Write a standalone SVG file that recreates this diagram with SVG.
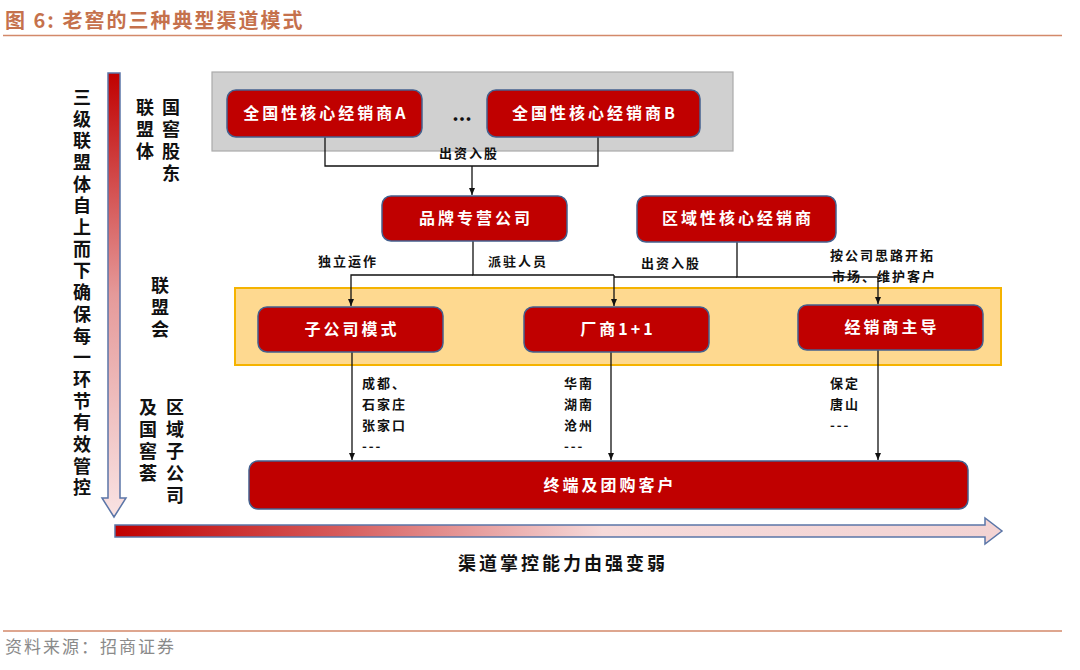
<svg xmlns="http://www.w3.org/2000/svg" width="1080" height="670" viewBox="0 0 1080 670">
<defs>
<style>
.t{font-family:"Noto Sans CJK SC","Liberation Sans",sans-serif;font-weight:bold;}
.node{fill:#c00000;stroke:#44608e;stroke-width:1.5;}
.nt{fill:#ffffff;font-size:16px;letter-spacing:3px;text-anchor:middle;}
.lbl{fill:#111;font-size:13px;letter-spacing:2px;}
.side{fill:#111;font-size:18px;writing-mode:vertical-rl;letter-spacing:4px;}
.ln{fill:none;stroke:#111;stroke-width:1.3;}
</style>
<marker id="ah" markerWidth="8" markerHeight="8" refX="7" refY="4" orient="auto" markerUnits="userSpaceOnUse">
<path d="M0,1 L7,4 L0,7 Z" fill="#111"/>
</marker>
<linearGradient id="gv" x1="0" y1="0" x2="0" y2="1">
<stop offset="0" stop-color="#c00000"/>
<stop offset="0.5" stop-color="#e59a9a"/>
<stop offset="1" stop-color="#f9e3e3"/>
</linearGradient>
<linearGradient id="gh" x1="0" y1="0" x2="1" y2="0">
<stop offset="0" stop-color="#c00000"/>
<stop offset="0.25" stop-color="#d65a5a"/>
<stop offset="0.55" stop-color="#f6dada"/>
<stop offset="1" stop-color="#f3d3d3"/>
</linearGradient>
</defs>
<rect width="1080" height="670" fill="#ffffff"/>

<g id="title">
<text x="5" y="28" class="t" style="font-size:20px;letter-spacing:2px;fill:#c5714c;">图 6:  老窖的三种典型渠道模式</text>
<line x1="3" y1="35.5" x2="1062" y2="35.5" stroke="#d3896a" stroke-width="1.5"/>
</g>

<g id="left-arrow">
<polygon points="108,73 120,73 120,498 126,498 114,517 102,498 108,498" fill="url(#gv)" stroke="#5b76a8" stroke-width="1.5"/>
<text class="t side" x="82" y="88" style="letter-spacing:3.7px;">三级联盟体自上而下确保每一环节有效管控</text>
</g>

<g id="bottom-arrow">
<polygon points="115,525 985,525 985,518 1002,531 985,544 985,537 115,537" fill="url(#gh)" stroke="#5b76a8" stroke-width="1.5"/>
<text class="t" x="563" y="570" style="font-size:18px;letter-spacing:3px;text-anchor:middle;fill:#111;">渠道掌控能力由强变弱</text>
</g>

<g id="tier-labels">
<text class="t side" x="145" y="98">联盟体</text>
<text class="t side" x="171" y="98">国窖股东</text>
<text class="t side" x="160" y="276">联盟会</text>
<text class="t side" x="148" y="398">及国窖荟</text>
<text class="t side" x="175" y="398">区域子公司</text>
</g>

<g id="shareholder-group">
<rect x="212" y="72" width="521" height="79" fill="#d0d0d0" stroke="#ababab" stroke-width="1.2"/>
</g>
<g id="alliance-group">
<rect x="235" y="288" width="766" height="77" fill="#fed990" stroke="#f5b300" stroke-width="2"/>
</g>

<g id="connectors">
<path class="ln" d="M325,137 V166 H598 V137"/>
<path class="ln" d="M472,166 V195" marker-end="url(#ah)"/>
<path class="ln" d="M473,241 V275 H614"/>
<path class="ln" d="M473,275 H351 V306" marker-end="url(#ah)"/>
<path class="ln" d="M614,275 V306" marker-end="url(#ah)"/>
<path class="ln" d="M737,242 V277 H878 V304" marker-end="url(#ah)"/>
<path class="ln" d="M737,277 H614"/>
<path class="ln" d="M352,352 V460" marker-end="url(#ah)"/>
<path class="ln" d="M611,352 V460" marker-end="url(#ah)"/>
<path class="ln" d="M878,350 V460" marker-end="url(#ah)"/>
<text class="t lbl" x="439" y="158">出资入股</text>
<text class="t lbl" x="318" y="266">独立运作</text>
<text class="t lbl" x="488" y="266">派驻人员</text>
<text class="t lbl" x="641" y="268">出资入股</text>
<text class="t lbl" x="830" y="260">按公司思路开拓</text>
<text class="t lbl" x="832" y="281">市场、维护客户</text>
<text class="t lbl"><tspan x="362" y="388">成都、</tspan><tspan x="362" dy="21">石家庄</tspan><tspan x="362" dy="21">张家口</tspan><tspan x="362" dy="21">---</tspan></text>
<text class="t lbl"><tspan x="564" y="388">华南</tspan><tspan x="564" dy="21">湖南</tspan><tspan x="564" dy="21">沧州</tspan><tspan x="564" dy="21">---</tspan></text>
<text class="t lbl"><tspan x="830" y="388">保定</tspan><tspan x="830" dy="21">唐山</tspan><tspan x="830" dy="21">---</tspan></text>
</g>

<g id="node-a">
<rect class="node" x="227" y="90" width="195" height="47" rx="9"/>
<text class="t nt" x="326" y="119">全国性核心经销商A</text>
</g>
<g id="node-dots">
<text class="t" x="462" y="121" style="font-size:20px;fill:#111;text-anchor:middle;">...</text>
</g>
<g id="node-b">
<rect class="node" x="487" y="90" width="213" height="47" rx="9"/>
<text class="t nt" x="595" y="119">全国性核心经销商B</text>
</g>
<g id="node-brand">
<rect class="node" x="382" y="196" width="185" height="45" rx="9"/>
<text class="t nt" x="476" y="224">品牌专营公司</text>
</g>
<g id="node-regional">
<rect class="node" x="637" y="196" width="199" height="46" rx="9"/>
<text class="t nt" x="738" y="224">区域性核心经销商</text>
</g>
<g id="node-subsidiary">
<rect class="node" x="258" y="307" width="185" height="45" rx="9"/>
<text class="t nt" x="352" y="335">子公司模式</text>
</g>
<g id="node-factory">
<rect class="node" x="524" y="307" width="185" height="45" rx="9"/>
<text class="t nt" x="618" y="335">厂商1+1</text>
</g>
<g id="node-dealer">
<rect class="node" x="798" y="305" width="185" height="45" rx="9"/>
<text class="t nt" x="892" y="333">经销商主导</text>
</g>
<g id="node-terminal">
<rect class="node" x="249" y="461" width="719" height="48" rx="9"/>
<text class="t nt" x="610" y="491">终端及团购客户</text>
</g>

<g id="footer">
<line x1="3" y1="631" x2="1062" y2="631" stroke="#d3896a" stroke-width="1.5"/>
<text x="5" y="653" style="font-family:'Noto Sans CJK SC','Liberation Sans',sans-serif;font-size:17px;letter-spacing:2px;fill:#8a8a8a;">资料来源：招商证券</text>
</g>
</svg>
